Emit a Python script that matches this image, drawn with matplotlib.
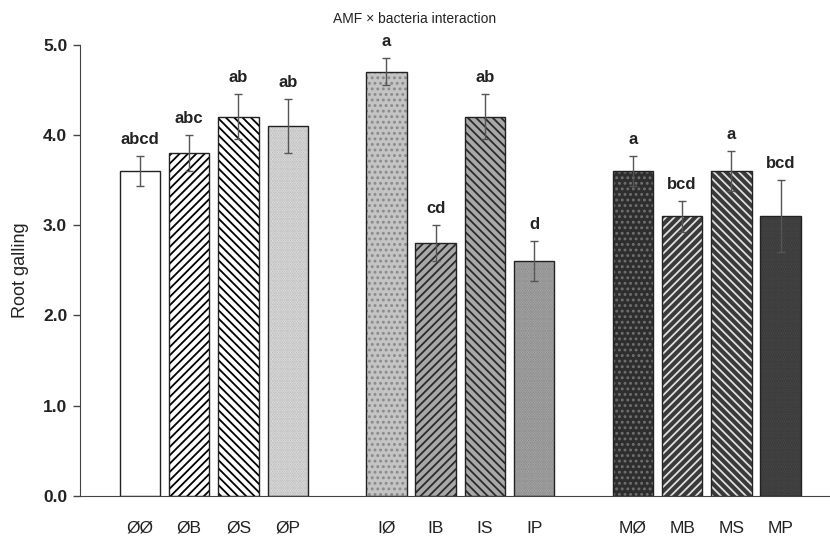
import matplotlib.pyplot as plt
import numpy as np

plt.rcParams['font.family'] = ['Liberation Sans', 'DejaVu Sans']
plt.rcParams['hatch.linewidth'] = 1.3

# data
labels = ['ØØ', 'ØB', 'ØS', 'ØP', 'IØ', 'IB', 'IS', 'IP', 'MØ', 'MB', 'MS', 'MP']
positions = [0, 1, 2, 3, 5, 6, 7, 8, 10, 11, 12, 13]
means = [3.6, 3.8, 4.2, 4.1, 4.7, 2.8, 4.2, 2.6, 3.6, 3.1, 3.6, 3.1]
errors = [0.17, 0.2, 0.25, 0.3, 0.15, 0.2, 0.25, 0.22, 0.17, 0.17, 0.22, 0.4]
letters = ['abcd', 'abc', 'ab', 'ab', 'a', 'cd', 'ab', 'd', 'a', 'bcd', 'a', 'bcd']

# fill colour, hatch pattern, hatch colour
faces = ['white', 'white', 'white', '#eeeeee',
         '#c4c4c4', '#a8a8a8', '#a8a8a8', '#b4b4b4',
         '#2e2e2e', '#3a3a3a', '#3a3a3a', '#505050']
hatches = ['', '////', '\\\\\\\\', '.......',
           '...', '////', '\\\\\\\\', '.......',
           '...', '////', '\\\\\\\\', '.......']
hatch_cols = ['black', 'black', 'black', '#b0b0b0',
              '#8a8a8a', '#2a2a2a', '#2a2a2a', '#808080',
              '#707070', '#e0e0e0', '#e0e0e0', '#303030']

fig = plt.figure(figsize=(8.3, 5.39), dpi=100)
ax = fig.add_axes([0.096, 0.08, 0.904, 0.837])

w = 0.82
for i in range(len(labels)):
    ax.bar(positions[i], means[i], width=w, color=faces[i], hatch=hatches[i],
           edgecolor=hatch_cols[i], linewidth=0, zorder=2)
    ax.bar(positions[i], means[i], width=w, fill=False, edgecolor='#222222',
           linewidth=1.0, zorder=3)

ax.errorbar(positions, means, yerr=errors, fmt='none', ecolor='#555555',
            elinewidth=1.0, capsize=3, capthick=1.0, zorder=4)

for x, m, e, t in zip(positions, means, errors, letters):
    ax.text(x, m + e + 0.1, t, ha='center', va='bottom', fontsize=12,
            fontweight='bold', color='#222222')

ax.set_xlim(-1.22, 14.0)
ax.set_ylim(0, 5.0)
ax.set_yticks(np.arange(0, 5.01, 1.0))
ax.set_yticklabels(['%.1f' % v for v in np.arange(0, 5.01, 1.0)],
                   fontsize=12.5, fontweight='bold', color='#222222')
ax.set_xticks(positions)
ax.set_xticklabels(labels, fontsize=12.5, color='#222222')
ax.tick_params(axis='x', length=0, pad=18)
ax.tick_params(axis='y', length=5, width=1, color='#444444', pad=4)
ax.spines['top'].set_visible(False)
ax.spines['right'].set_visible(False)
ax.spines['left'].set_color('#444444')
ax.spines['bottom'].set_color('#444444')
ax.set_ylabel('Root galling', fontsize=13, color='#222222', labelpad=10)
fig.text(0.5, 0.965, 'AMF × bacteria interaction', ha='center', va='center',
         fontsize=10, color='#222222')

fig.savefig('out.png', dpi=100)
